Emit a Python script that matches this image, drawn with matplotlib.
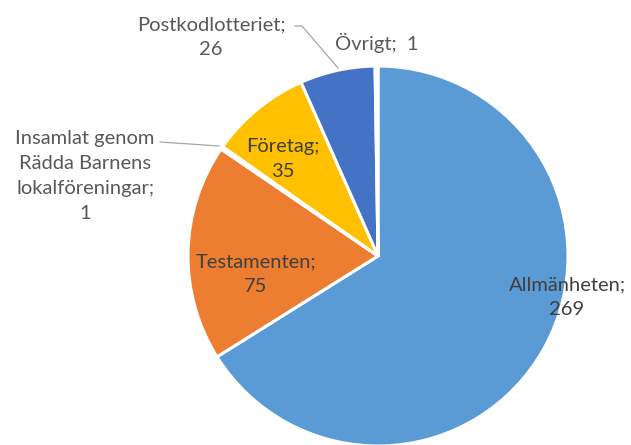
import matplotlib.pyplot as plt

categories = ['Allmänheten', 'Testamenten',
              'Insamlat genom\nRädda Barnens\nlokalföreningar', 'Företag',
              'Postkodlotteriet', 'Övrigt']
values = [269, 75, 1, 35, 26, 1]
colors = ['#5B9BD5', '#ED7D31', '#A5A5A5', '#FFC000', '#4472C4', '#70AD47']

W, H = 631, 445
cx, cy, r = 378, 256, 190


def px(x, y):
    # image pixel -> data coords (pie radius = 1)
    return (x - cx) / r, (cy - y) / r


plt.rcParams['font.family'] = ['Lato', 'DejaVu Sans']
fig = plt.figure(figsize=(W / 100, H / 100), dpi=100)
ax = fig.add_axes([0, 0, 1, 1])
ax.pie(values, colors=colors, startangle=90, counterclock=False, radius=1,
       wedgeprops=dict(edgecolor='white', linewidth=2.2))
ax.set_xlim(-cx / r, (W - cx) / r)
ax.set_ylim(-(H - cy) / r, cy / r)
ax.set_aspect('auto')
ax.axis('off')

fs = 14.5
labels = [f'{c};\n{v}' for c, v in zip(categories, values)]
labels[5] = f'{categories[5]};  {values[5]}'
pos = [(567, 297), (256, 274), (85, 176), (283, 159), (211, 37), (377, 43)]
tcol = ['#404040', '#404040', '#595959', '#404040', '#595959', '#595959']
for lab, (x, y), c in zip(labels, pos, tcol):
    ax.text(*px(x, y), lab, ha='center', va='center', fontsize=fs,
            color=c, linespacing=1.55)

line = '#A6A6A6'
x0, y0 = px(295, 26)
x1, y1 = px(302, 26)
x2, y2 = px(338, 68)
ax.plot([x0, x1, x2], [y0, y1, y2], color=line, lw=0.9)
x0, y0 = px(160, 142)
x1, y1 = px(219, 146)
ax.plot([x0, x1], [y0, y1], color=line, lw=0.9)

fig.savefig('out.png', dpi=100)
